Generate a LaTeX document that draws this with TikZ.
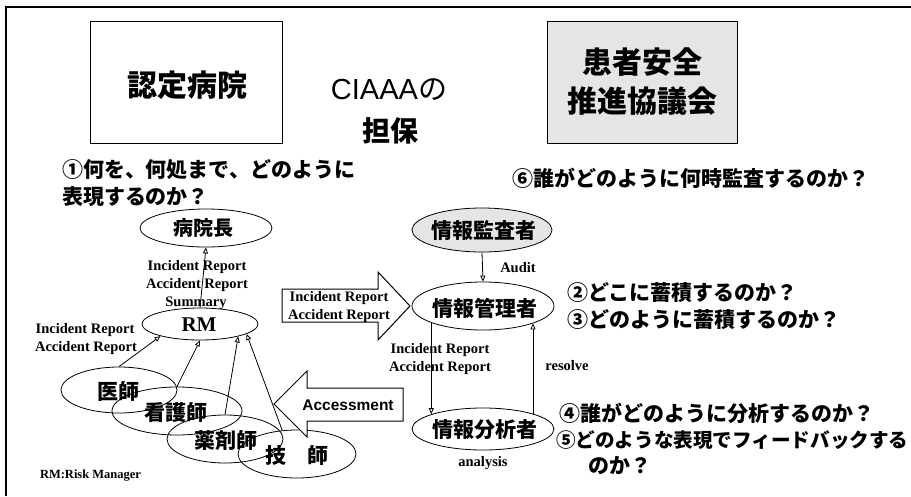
\documentclass[tikz,border=0pt]{standalone}
\usepackage{fontspec}
\setmainfont{Liberation Serif}
\newfontfamily\jp{Noto Sans CJK JP}
\newfontfamily\sansf{Liberation Sans}
\usetikzlibrary{arrows.meta,shapes.geometric}
\begin{document}
\begin{tikzpicture}[x=1pt,y=-1pt,
  ell/.style={draw,ellipse,line width=0.8pt,inner sep=0pt},
  txt/.style={inner sep=0pt,outer sep=0pt},
  q/.style={txt,anchor=west,font=\jp\bfseries\fontsize{21}{21}\selectfont},
  lab/.style={txt,font=\bfseries\fontsize{14.5}{15}\selectfont},
  elab/.style={txt,font=\jp\bfseries\fontsize{21}{21}\selectfont},
  arr/.style={line width=0.8pt,-{Triangle[open,length=6pt,width=5pt]}},
  blk/.style={draw,line width=1pt,fill=white}]
\useasboundingbox (0,0) rectangle (911,496);
\fill[white] (0,0) rectangle (911,496);
\draw[line width=1.2pt] (6,496) -- (6,7) -- (911,7);

% title boxes
\node[draw,line width=1pt,minimum width=192pt,minimum height=122pt,inner sep=0pt] (nintei) at (186,82) {};
\node[txt,font=\jp\bfseries\fontsize{30}{30}\selectfont] (ninteit) at (187,85) {認定病院};
\node[draw,line width=1pt,fill=black!10,minimum width=190pt,minimum height=122pt,inner sep=0pt] (kyogi) at (642,82) {};
\node[txt,font=\jp\bfseries\fontsize{30}{30}\selectfont] (kyogi1) at (642,62) {患者安全};
\node[txt,font=\jp\bfseries\fontsize{30}{30}\selectfont] (kyogi2) at (642,101) {推進協議会};
\node[txt] (ciaaa) at (389,90) {\sansf\fontsize{29}{29}\selectfont CIAAA\jp の};
\node[txt,font=\jp\bfseries\fontsize{28}{28}\selectfont] (tanpo) at (390,131) {担保};

% questions
\node[q] (q1a) at (62,170) {①何を、何処まで、どのように};
\node[q] (q1b) at (62,197) {表現するのか？};
\node[q] (q6) at (512,178) {⑥誰がどのように何時監査するのか？};
\node[q] (q2) at (567,293) {②どこに蓄積するのか？};
\node[q] (q3) at (567,320) {③どのように蓄積するのか？};
\node[q] (q4) at (559,413) {④誰がどのように分析するのか？};
\node[q,font=\jp\bfseries\fontsize{19.6}{20}\selectfont] (q5) at (556,440) {⑤どのような表現でフィードバックする};
\node[q] (q5b) at (588,466) {のか？};

% hospital side ellipses
\node[ell,minimum width=132pt,minimum height=38pt] (byoin) at (206,228) {};
\node[elab,font=\jp\bfseries\fontsize{20}{20}\selectfont] (byoint) at (203,228) {病院長};
\node[ell,minimum width=116pt,minimum height=32pt] (rm) at (200,324) {};
\node[txt,font=\bfseries\fontsize{21}{21}\selectfont] (rmt) at (199,325) {RM};
\node[ell,minimum width=116pt,minimum height=46pt] (ishi) at (119,390) {};
\node[elab] (ishit) at (118,392) {医師};
\node[ell,minimum width=130pt,minimum height=48pt] (kango) at (177,411) {};
\node[elab] (kangot) at (176,413) {看護師};
\node[ell,minimum width=116pt,minimum height=48pt] (yaku) at (225,439) {};
\node[elab] (yakut) at (226,441) {薬剤師};
\node[ell,minimum width=118pt,minimum height=48pt] (gishi) at (297,454) {};
\node[elab] (gishit) at (297,456) {技　師};

% hospital side arrows
\draw[arr] (rm.north) -- (byoin.south);
\draw[arr] (ishi.north) -- (rm.197);
\draw[arr] (kango.north) -- (rm.south);
\draw[arr] (yaku.north) -- (rm.-18);
\draw[arr] (gishi.122) -- (rm.-12);

\node[lab] (ir1) at (197,267) {Incident Report};
\node[lab] (ar1) at (197,285) {Accident Report};
\node[lab] (sum) at (196,303) {Summary};
\node[lab] (ir2) at (85,330) {Incident Report};
\node[lab] (ar2) at (86,348) {Accident Report};

% block arrows
\draw[blk] (282,289) -- (378,289) -- (378,272) -- (410,306) -- (378,340) -- (378,322) -- (282,322) -- cycle;
\node[lab] (ir3) at (339,298) {Incident Report};
\node[lab] (ar3) at (339,316) {Accident Report};
\draw[blk] (403,388) -- (307,388) -- (307,371) -- (274,404) -- (307,437) -- (307,421) -- (403,421) -- cycle;
\node[txt,font=\sansf\bfseries\fontsize{15.5}{16}\selectfont] (acc) at (348,405) {Accessment};

% council side
\node[ell,fill=black!10,minimum width=140pt,minimum height=44pt] (kansa) at (482,230) {};
\node[elab] (kansat) at (484,231) {情報監査者};
\node[ell,minimum width=142pt,minimum height=48pt] (kanri) at (483,306) {};
\node[elab] (kanrit) at (485,308) {情報管理者};
\node[ell,minimum width=142pt,minimum height=42pt] (bunseki) at (483,429) {};
\node[elab] (bunsekit) at (485,430) {情報分析者};

\draw[arr] (kansa.south) -- (kanri.north);
\node[lab] (audit) at (518,268) {Audit};
\draw[arr] (kanri.198) -- (kanri.198 |- bunseki.164);
\draw[arr] (bunseki.17) -- (bunseki.17 |- kanri.-19);
\node[lab] (ir4) at (440,350) {Incident Report};
\node[lab] (ar4) at (440,368) {Accident Report};
\node[lab] (resolve) at (567,366) {resolve};
\node[lab] (analysis) at (483,463) {analysis};

\node[txt,anchor=west,font=\bfseries\fontsize{12.5}{13}\selectfont] (rmnote) at (40,476) {RM:Risk Manager};
\end{tikzpicture}
\end{document}
